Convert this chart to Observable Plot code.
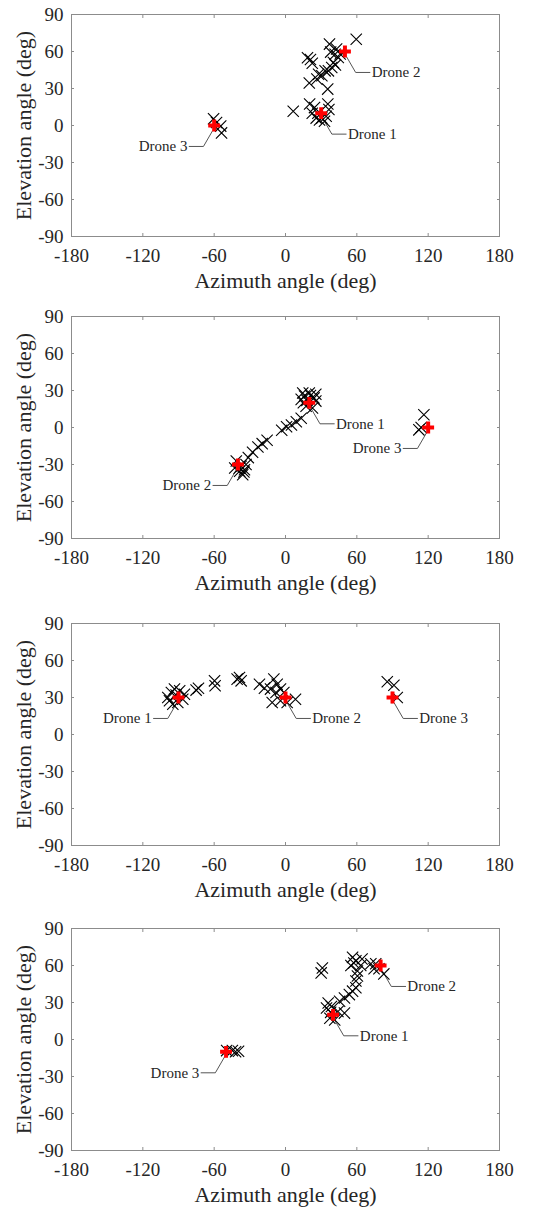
<!DOCTYPE html>
<html>
<head>
<meta charset="utf-8">
<script src="https://cdn.jsdelivr.net/npm/d3@7"></script>
<script src="https://cdn.jsdelivr.net/npm/@observablehq/plot@0.6"></script>
<style>
  html, body { margin: 0; padding: 0; background: #fff; }
  svg { display: block; }
  svg, svg text { font-family: "Liberation Serif", "Times New Roman", serif !important; }
</style>
</head>
<body>
<div id="chart"></div>
<script>
// ---------- data ----------
const drones = ["Drone 1", "Drone 2", "Drone 3"];
const xTicks = [-180, -120, -60, 0, 60, 120, 180];
const yTicks = [-90, -60, -30, 0, 30, 60, 90];
const xLabel = "Azimuth angle (deg)";
const yLabel = "Elevation angle (deg)";

// Scenario 1
const truthAz1 = [30, 50, -60];
const truthEl1 = [10, 60, 0];
const side1 = ["right", "right", "left"];
const estAz1 = [-60.5, -54.5, -53.8, -58,
  6.5, 20.3, 24.4, 35.6, 36.5, 25.8, 28.6, 32.8, 27.2, 34.2, 30.5, 22.5,
  59.5, 37, 38, 41.7, 44.4, 40.3, 38.9, 36.1, 18.5, 21, 22.5, 20, 27.8, 30.6, 33.3, 35.5, 26.4, 43, 42, 46];
const estEl1 = [5.4, -0.5, -6, 2.5,
  11.5, 17.5, 14.5, 17.5, 13, 6, 4.5, 3.5, 10, 7.5, 6, 10,
  70, 66, 59.5, 57.8, 55.1, 51, 47, 44.3, 55, 53.5, 50.5, 34.5, 41.6, 40.3, 44.3, 29.5, 37.6, 62, 49, 58];

// Scenario 2
const truthAz2 = [20, -40, 120];
const truthEl2 = [20, -30, 0];
const side2 = ["right", "left", "left"];
const estAz2 = [14.5, 20, 25.5, 13.2, 25.5, 17.3, 22.7, 16, 24, 18, 21, 15,
  13.2, 9.1, 5, 0.9, -3.2,
  -15.5, -19.6, -23.2, -27.7, -31.3,
  -41.4, -37.3, -34.5, -38.6, -42.7, -33.2, -36, -35, -39,
  116.4, 112.2, 114.1];
const estEl2 = [28, 28, 27, 22.8, 21.4, 17.2, 15.8, 25.5, 24, 22, 26, 20,
  7.5, 4.7, 2, 0.6, -2.2,
  -10.3, -13.1, -15.8, -20, -24.4,
  -27.2, -31.4, -34.2, -35.5, -32.8, -30, -38.3, -36, -33,
  10.3, -1.9, 0];

// Scenario 3
const truthAz3 = [-90, 0, 90];
const truthEl3 = [30, 30, 30];
const side3 = ["left", "right", "right"];
const estAz3 = [-96, -93.4, -89, -85, -97.6, -94.8, -90.6, -86.4, -99, -92,
  -75.2, -73.2, -59.7, -59.2, -40.7, -37.3, -38.7, -21.9, -17.7,
  -9.8, -7, -4.2, -11.2, -4.2, 8.4, -1.4, -12.6, 1.4, -8,
  85.6, 91.2, 94];
const estEl3 = [34, 36.8, 35.4, 32.7, 27.3, 24.6, 26, 28.6, 30, 32,
  36, 37.5, 43.5, 39.5, 44.9, 43.5, 46.2, 40.8, 37.6,
  44.9, 40.8, 36.8, 26, 27.3, 28.6, 34, 36.8, 26, 34,
  42.7, 40, 30];

// Scenario 4
const truthAz4 = [40, 80, -50];
const truthEl4 = [20, 60, -10];
const side4 = ["right", "right", "left"];
const estAz4 = [-49.5, -44.7, -39.5, -42,
  31, 30,
  35.9, 34.5, 38.6, 37.3, 41.4, 44.1, 49.6, 45.5, 49.6, 53.7, 56.4, 59.2, 59.2, 60.5, 38,
  56.4, 59.2, 63.3, 55, 60.5, 64.4, 57.5,
  71.8, 74.5, 75.9, 82.7, 78.6];
const estEl4 = [-9, -9, -9.5, -10,
  58, 54,
  29.6, 25.5, 26.8, 17.3, 15.9, 22.7, 21.4, 31, 33.7, 36.4, 39.2, 42, 47.4, 51.5, 22,
  66.6, 63.8, 60, 60, 55.6, 65.2, 62,
  61.4, 57.3, 61.4, 53.2, 57.3];

const panels = [
  {truthAz: truthAz1, truthEl: truthEl1, side: side1, estAz: estAz1, estEl: estEl1},
  {truthAz: truthAz2, truthEl: truthEl2, side: side2, estAz: estAz2, estEl: estEl2},
  {truthAz: truthAz3, truthEl: truthEl3, side: side3, estAz: estAz3, estEl: estEl3},
  {truthAz: truthAz4, truthEl: truthEl4, side: side4, estAz: estAz4, estEl: estEl4}
];

// ---------- layout ----------
const panelHeights = [302, 307, 305, 293];
const boxH = 222;
const frameColor = "#8c8c8c";
const textColor = "#262626";
const fontFamily = "Liberation Serif";

const chart = document.getElementById("chart");

panels.forEach((p, i) => {
  const h = panelHeights[i];
  const truth = drones.map((name, j) => ({name, az: p.truthAz[j], el: p.truthEl[j], side: p.side[j]}));
  const est = p.estAz.map((az, j) => ({az, el: p.estEl[j]}));
  // leader lines: short diagonal from the marker, then a horizontal run to the label
  const leaders = truth.flatMap(d => {
    const s = d.side === "right" ? 1 : -1;
    return [
      {id: d.name, az: d.az + s * 1.5, el: d.el - 4.5},
      {id: d.name, az: d.az + s * 9, el: d.el - 17},
      {id: d.name, az: d.az + s * 21, el: d.el - 17}
    ];
  });
  const right = truth.filter(d => d.side === "right");
  const left = truth.filter(d => d.side === "left");

  const svg = Plot.plot({
    width: 544,
    height: h,
    marginLeft: 71,
    marginRight: 45,
    marginTop: 14,
    marginBottom: h - 14 - boxH,
    style: {fontFamily, fontSize: "19px", color: textColor, background: "#fff", overflow: "visible"},
    x: {domain: [-180, 180]},
    y: {domain: [-90, 90]},
    marks: [
      Plot.frame({stroke: frameColor, strokeWidth: 1}),
      Plot.axisX(xTicks, {anchor: "bottom", tickSize: -3, tickPadding: 15, stroke: frameColor, fill: textColor, label: null, tickFormat: d => String(d), fontSize: 19, fontFamily}),
      Plot.axisX(xTicks, {anchor: "top", tickSize: -3, stroke: frameColor, label: null, tickFormat: () => ""}),
      Plot.axisY(yTicks, {anchor: "left", tickSize: -3, tickPadding: 11, stroke: frameColor, fill: textColor, label: null, tickFormat: d => String(d), fontSize: 19, fontFamily}),
      Plot.axisY(yTicks, {anchor: "right", tickSize: -3, stroke: frameColor, label: null, tickFormat: () => ""}),
      Plot.line(leaders, {x: "az", y: "el", z: "id", stroke: "#555", strokeWidth: 1}),
      Plot.dot(est, {x: "az", y: "el", symbol: "times", r: 5.2, stroke: "#000", strokeWidth: 1.1}),
      Plot.dot(truth, {x: "az", y: "el", symbol: "cross", r: 5, fill: "#ff0000", stroke: null}),
      Plot.text(right, {x: d => d.az + 22.5, y: d => d.el - 17, text: "name", textAnchor: "start", fontSize: 15, fontFamily, fill: textColor}),
      Plot.text(left, {x: d => d.az - 22.5, y: d => d.el - 17, text: "name", textAnchor: "end", fontSize: 15, fontFamily, fill: textColor}),
      Plot.text([xLabel], {frameAnchor: "bottom", textAnchor: "middle", lineAnchor: "middle", dy: 44, fontSize: 22, fontFamily, fill: textColor}),
      Plot.text([yLabel], {frameAnchor: "left", textAnchor: "middle", lineAnchor: "middle", dx: -48, rotate: -90, fontSize: 22, fontFamily, fill: textColor})
    ]
  });
  chart.appendChild(svg);
});
</script>
</body>
</html>
